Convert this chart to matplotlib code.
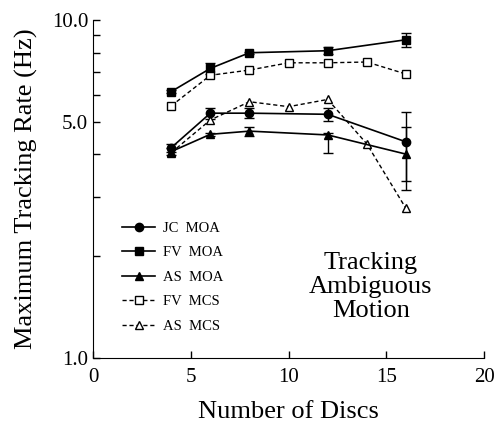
import matplotlib
matplotlib.use("Agg")
import matplotlib.pyplot as plt
from matplotlib.lines import Line2D
from matplotlib.ticker import FixedLocator, NullFormatter

plt.rcParams['font.family'] = ['Liberation Serif', 'DejaVu Serif']

# data
x_moa = [4, 6, 8, 12, 16]
jc_moa = [4.19, 5.30, 5.30, 5.26, 4.36]
jc_moa_lo = [0.12, 0.20, 0.18, 0.23, 1.02]
jc_moa_hi = [0.12, 0.20, 0.18, 0.22, 0.99]
fv_moa = [6.14, 7.19, 8.00, 8.11, 8.74]
fv_moa_err = [0.05, 0.25, 0.05, 0.20, 0.40]
as_moa = [4.08, 4.59, 4.69, 4.57, 4.01]
as_moa_lo = [0.10, 0.05, 0.15, 0.52, 0.86]
as_moa_hi = [0.10, 0.05, 0.15, 0.05, 0.81]

x_mcs = [4, 6, 8, 10, 12, 14, 16]
fv_mcs = [5.57, 6.86, 7.11, 7.47, 7.47, 7.51, 6.92]
as_mcs = [4.05, 5.06, 5.73, 5.54, 5.82, 4.30, 2.77]

labels = ["JC  MOA", "FV  MOA", "AS  MOA", "FV  MCS", "AS  MCS"]

fig = plt.figure(figsize=(4.96, 4.25), dpi=100)
ax = fig.add_axes([0.1875, 0.1576, 0.7887, 0.7954])

dash = (0, (3, 2))
kw = dict(color='black', lw=1.2, capsize=3.5, elinewidth=1.0, capthick=1.0, markersize=6)
ax.errorbar(x_moa, jc_moa, yerr=[jc_moa_lo, jc_moa_hi], fmt='-o', **kw)
ax.errorbar(x_moa, fv_moa, yerr=fv_moa_err, fmt='-s', **kw)
ax.errorbar(x_moa, as_moa, yerr=[as_moa_lo, as_moa_hi], fmt='-^', **kw)
ax.plot(x_mcs, fv_mcs, ls=dash, color='black', lw=1.0, marker='s',
        mfc='white', mec='black', markersize=6)
ax.plot(x_mcs, as_mcs, ls=dash, color='black', lw=1.0, marker='^',
        mfc='white', mec='black', markersize=6)

ax.set_yscale('log')
ax.set_xlim(0, 20)
ax.set_ylim(1, 10)
ax.set_xticks([0, 5, 10, 15, 20])
ax.yaxis.set_major_locator(FixedLocator([1, 5, 10]))
ax.set_yticklabels(["1.0", "5.0", "10.0"])
ax.yaxis.set_minor_locator(FixedLocator([2, 3, 4, 6, 7, 8, 9]))
ax.yaxis.set_minor_formatter(NullFormatter())
ax.tick_params(direction='in', length=5, width=1, labelsize=15)
ax.tick_params(axis='x', pad=7)
ax.tick_params(which='minor', direction='in', length=5, width=1)
ax.spines['top'].set_visible(False)
ax.spines['right'].set_visible(False)
ax.set_xlabel("Number of Discs", fontsize=19, labelpad=10)
ax.set_ylabel("Maximum Tracking Rate (Hz)", fontsize=19, labelpad=10)

ax.text(14.2, 1.62, "Tracking\nAmbiguous\nMotion", ha='center', va='center',
        fontsize=19, linespacing=1.1)

handles = [
    Line2D([], [], color='black', lw=1.2, marker='o', markersize=6),
    Line2D([], [], color='black', lw=1.2, marker='s', markersize=6),
    Line2D([], [], color='black', lw=1.2, marker='^', markersize=6),
    Line2D([], [], color='black', lw=1.0, ls=dash, marker='s', mfc='white', markersize=6),
    Line2D([], [], color='black', lw=1.0, ls=dash, marker='^', mfc='white', markersize=6),
]
ax.legend(handles, labels, loc='lower left', bbox_to_anchor=(0.04, 0.035), frameon=False,
          fontsize=10.5, handlelength=2.3, labelspacing=0.78, handletextpad=0.5)

fig.savefig("out.png", dpi=100)
